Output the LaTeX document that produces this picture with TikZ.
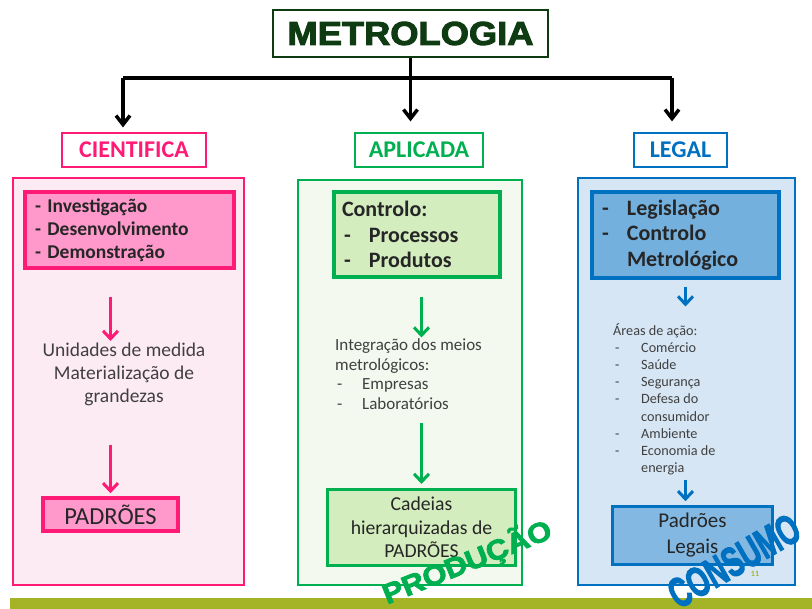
\documentclass[tikz,border=0pt]{standalone}
\usepackage{fontspec}
\setmainfont{Carlito}
\newfontfamily\blackfont[BoldFeatures={FakeBold=3}, FakeStretch=1.1]{Liberation Sans}
\usepackage{tikz}
\usetikzlibrary{positioning, arrows.meta}
\definecolor{tGreen}{HTML}{0E3B12}
\definecolor{cPink}{HTML}{FF1A75}
\definecolor{cPinkFill}{HTML}{FF99CC}
\definecolor{cPinkBg}{HTML}{FDEBF3}
\definecolor{aGreen}{HTML}{00B050}
\definecolor{aGreenFill}{HTML}{D3EDBF}
\definecolor{aGreenBg}{HTML}{F3F9EF}
\definecolor{lBlue}{HTML}{0070C0}
\definecolor{lBlueFill}{HTML}{74B0DE}
\definecolor{lBlueBg}{HTML}{D6E6F4}
\definecolor{nInk}{HTML}{262626}
\definecolor{nGray}{HTML}{404040}
\definecolor{oBar}{HTML}{A4B426}
\tikzset{
  treeline/.style={line width=3.5pt, black},
  treearrow/.style={treeline, -{Straight Barb[length=9pt, width=14pt]}},
  branchbox/.style={draw=#1, line width=1.2pt, fill=white, text=#1, minimum height=34pt,
    inner sep=0pt, font=\bfseries\fontsize{24}{26}\selectfont},
  panel/.style={draw=#1, line width=1.3pt, inner sep=0pt},
  hotbox/.style={draw=#1, line width=4pt, text=nInk, align=left, inner ysep=0pt,
    font=\bfseries\fontsize{22}{25.5}\selectfont},
  padbox/.style={draw=#1, line width=3.5pt, text=nInk, align=center, inner sep=0pt},
  plain/.style={text=nGray, inner sep=0pt},
  flowarrow/.style={draw=#1, line width=3pt, -{Straight Barb[length=8pt, width=15pt]}},
}
\newcommand{\dashitem}[1]{\makebox[#1][l]{\hspace{2pt}-}}
\begin{document}
\begin{tikzpicture}[x=1pt, y=-1pt]
  \useasboundingbox (0,0) rectangle (812,609);
  % top of the tree
  \node[draw=tGreen, line width=2.5pt, minimum width=275pt, minimum height=47pt, inner sep=0pt,
    text=tGreen, font=\blackfont\bfseries\fontsize{33}{36}\selectfont] (title) at (410.5,33.5) {METROLOGIA};
  \node[branchbox=cPink, minimum width=144pt] (cientifica) at (134,150) {CIENTIFICA};
  \node[branchbox=aGreen, minimum width=128pt] (aplicada) at (419,150) {APLICADA};
  \node[branchbox=lBlue, minimum width=93pt] (legal) at (680.5,150) {LEGAL};
  \coordinate (barL) at (123,78);
  \coordinate (barR) at (672,78);
  \draw[treeline] (barL) -- (barR);
  \draw[treearrow, shorten >=5pt] (barL) -- (barL |- cientifica.north);
  \draw[treearrow, shorten >=11pt] (title.south) -- (title.south |- aplicada.north);
  \draw[treearrow, shorten >=11pt] (barR) -- (barR |- legal.north);

  % the three panels
  \node[panel=cPink, fill=cPinkBg, minimum width=231pt, minimum height=407pt] (ciPanel) at (128.5,381.5) {};
  \node[panel=aGreen, fill=aGreenBg, minimum width=224pt, minimum height=405pt] (apPanel) at (410,382.5) {};
  \node[panel=lBlue, fill=lBlueBg, minimum width=217pt, minimum height=407pt] (lgPanel) at (686.5,381.5) {};

  % CIENTIFICA
  \node[hotbox=cPink, fill=cPinkFill, minimum height=76pt, text width=189pt, inner xsep=10pt,
    font=\bfseries\fontsize{19.5}{23}\selectfont] (ciInner) at (129.5,230)
    {- Investigação\\- Desenvolvimento\\- Demonstração};
  \node[plain, align=center, anchor=north, font=\fontsize{19.5}{23}\selectfont] (ciText) at (124,343)
    {Unidades de medida\\Materialização de\\grandezas};
  \node[padbox=cPink, fill=cPinkFill, minimum width=135pt, minimum height=33pt,
    font=\fontsize{24.5}{26}\selectfont] (ciPad) at (110.5,514.5) {PADRÕES};
  \draw[flowarrow=cPink, shorten <=27pt, shorten >=2pt] (ciInner.south -| ciPad.north) -- (ciText.north -| ciPad.north);
  \draw[flowarrow=cPink, shorten <=39pt, shorten >=3pt] (ciText.south -| ciPad.north) -- (ciPad.north);

  % APLICADA
  \node[hotbox=aGreen, fill=aGreenFill, minimum height=85pt, text width=150pt, inner xsep=8pt] (apInner) at (417,234.5)
    {Controlo:\\\dashitem{27pt}Processos\\\dashitem{27pt}Produtos};
  \node[plain, align=left, anchor=north west, font=\fontsize{17}{19.7}\selectfont] (apText) at (335,338.5)
    {Integração dos meios\\metrológicos:\\\dashitem{27pt}Empresas\\\dashitem{27pt}Laboratórios};
  \node[padbox=aGreen, line width=3pt, fill=aGreenFill, minimum width=188pt, minimum height=76pt,
    font=\fontsize{19.7}{23.5}\selectfont] (apCad) at (421.5,527.5) {Cadeias\\hierarquizadas de\\PADRÕES};
  \draw[flowarrow=aGreen, shorten <=18pt, shorten >=1pt] (apInner.south -| apCad.north) -- (apText.north -| apCad.north);
  \draw[flowarrow=aGreen, shorten <=13pt, shorten >=4pt] (apText.south -| apCad.north) -- (apCad.north);

  % LEGAL
  \node[hotbox=lBlue, fill=lBlueFill, minimum height=86pt, text width=171pt, inner xsep=8pt] (lgInner) at (685.5,235)
    {\dashitem{27pt}Legislação\\\dashitem{27pt}Controlo\\\hspace*{27pt}Metrológico};
  \node[plain, align=left, anchor=north west, font=\fontsize{14.2}{17.1}\selectfont] (lgText) at (613,323.5)
    {Áreas de ação:\\\dashitem{28pt}Comércio\\\dashitem{28pt}Saúde\\\dashitem{28pt}Segurança\\
     \dashitem{28pt}Defesa do\\\hspace*{28pt}consumidor\\\dashitem{28pt}Ambiente\\
     \dashitem{28pt}Economia de\\\hspace*{28pt}energia};
  \node[padbox=lBlue, fill=lBlueFill!90!white, minimum width=160pt, minimum height=58pt,
    font=\fontsize{21}{26}\selectfont] (lgPad) at (692.5,535.5) {Padrões\\Legais};
  \draw[flowarrow=lBlue, shorten <=7pt, shorten >=17pt] (lgInner.south -| lgInner.south) -- (lgText.north -| lgInner.south);
  \draw[flowarrow=lBlue, shorten <=5pt, shorten >=3.5pt] (lgText.south -| lgInner.south) -- (lgPad.north -| lgInner.south);

  % footer
  \fill[oBar] (10,598) rectangle (812,609);
  \node[text=oBar, font=\bfseries\fontsize{8}{9}\selectfont] (pageNo) at (755,574) {11};
  \node[rotate=22, text=aGreen, font=\blackfont\bfseries\fontsize{28}{30}\selectfont] (producao) at (467,562) {PRODUÇÃO};
  \node[rotate=30, text=lBlue, font=\blackfont\bfseries\fontsize{42}{42}\selectfont] (consumo) at (734,561)
    {\scalebox{0.6}[1]{CONSUMO}};
\end{tikzpicture}
\end{document}
